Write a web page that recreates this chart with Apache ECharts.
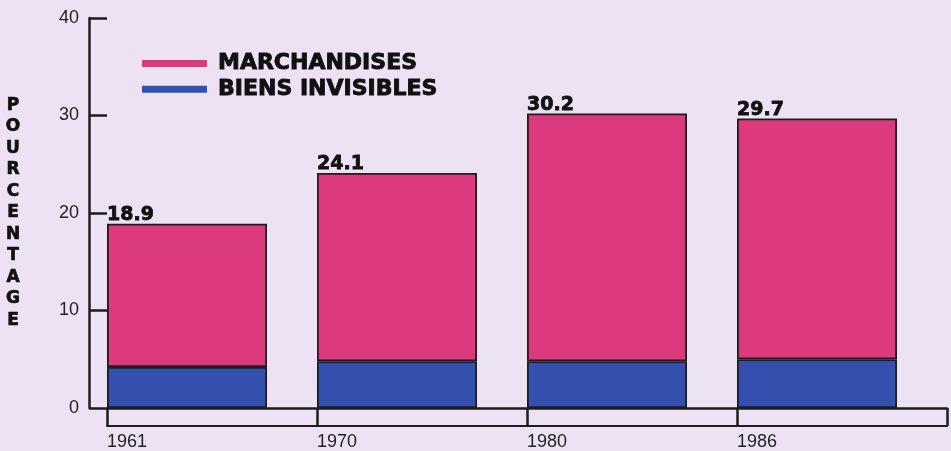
<!DOCTYPE html>
<html>
<head>
<meta charset="utf-8">
<script src="https://cdn.jsdelivr.net/npm/echarts@6/dist/echarts.min.js"></script>
<style>
  html, body { margin: 0; padding: 0; background: #ece2f4; }
  #chart { width: 951px; height: 451px; }
</style>
</head>
<body>
<div id="chart"></div>
<script>
// valeurs
const annees = ['1961', '1970', '1980', '1986'];
const totaux = [18.9, 24.1, 30.2, 29.7];
const biensInvisibles = [4.2, 4.8, 4.8, 5.0];
const marchandises = [14.7, 19.3, 25.4, 24.7];
const titreAxe = 'POURCENTAGE';

const rose = '#dd3a7e';
const bleu = '#3450ae';
const trait = '#1e1e1e';

const chart = echarts.init(document.getElementById('chart'));

// texte très gras, façon Helvetica Black
const gras = {
  fontFamily: 'DejaVu Sans',
  fontWeight: 'bold',
  color: '#111',
  textBorderColor: '#111',
  textBorderWidth: 0.9
};

const option = {
  backgroundColor: '#ece2f4',
  animation: false,
  grid: { left: 107, right: 4, top: 18, bottom: 43 },
  legend: {
    data: ['MARCHANDISES', 'BIENS INVISIBLES'],
    orient: 'vertical',
    left: 137,
    top: 47,
    icon: 'rect',
    itemWidth: 65,
    itemHeight: 7,
    itemGap: 3,
    itemStyle: { borderWidth: 0 },
    textStyle: Object.assign({}, gras, {
      fontSize: 22,
      lineHeight: 22,
      padding: [0, 0, 0, 6]
    })
  },
  xAxis: [
    {
      type: 'category',
      data: annees,
      boundaryGap: true,
      axisLine: { lineStyle: { color: trait, width: 2.5 } },
      axisTick: { show: true, length: 18, interval: 0, lineStyle: { color: trait, width: 2.5 } },
      axisLabel: {
        interval: 0,
        margin: 25,
        formatter: '{a|{value}}',
        rich: {
          a: { width: 210, align: 'left', fontFamily: 'Liberation Sans', fontSize: 18, color: '#222' }
        }
      }
    },
    {
      // bord inférieur de la bande sous l'axe
      type: 'category',
      data: annees,
      position: 'bottom',
      offset: 18,
      axisLine: { lineStyle: { color: trait, width: 2 } },
      axisTick: { show: false },
      axisLabel: { show: false }
    }
  ],
  yAxis: {
    type: 'value',
    min: 0,
    max: 40,
    interval: 10,
    offset: 18,
    name: titreAxe.split('').join('\n'),
    nameLocation: 'middle',
    nameRotate: 0,
    nameGap: 76,
    nameTextStyle: Object.assign({}, gras, {
      align: 'center',
      verticalAlign: 'middle',
      fontSize: 17,
      lineHeight: 21.5,
      textBorderWidth: 0.7
    }),
    splitLine: { show: false },
    axisLine: { show: true, lineStyle: { color: trait, width: 2.5 } },
    axisTick: { show: true, inside: true, length: 18, lineStyle: { color: trait, width: 2.5 } },
    axisLabel: { margin: 10, fontFamily: 'Liberation Sans', fontSize: 18, color: '#222' }
  },
  series: [
    {
      name: 'BIENS INVISIBLES',
      type: 'bar',
      stack: 'total',
      barWidth: 160,
      barGap: '0%',
      data: biensInvisibles,
      itemStyle: { color: bleu, borderColor: trait, borderWidth: 1.8 }
    },
    {
      name: 'MARCHANDISES',
      type: 'bar',
      stack: 'total',
      barWidth: 160,
      barGap: '0%',
      data: marchandises,
      itemStyle: { color: rose, borderColor: trait, borderWidth: 1.8 },
      label: Object.assign({}, gras, {
        show: true,
        position: [0, 1],
        align: 'left',
        verticalAlign: 'bottom',
        fontSize: 19,
        textBorderWidth: 0.8,
        formatter: (p) => totaux[p.dataIndex].toFixed(1)
      })
    },
    {
      // série vide : décale les barres vers le début de chaque catégorie
      name: 'espace',
      type: 'bar',
      stack: 'vide',
      barWidth: 50,
      barGap: '0%',
      data: annees.map(() => null),
      silent: true
    }
  ]
};

chart.setOption(option);
</script>
</body>
</html>
